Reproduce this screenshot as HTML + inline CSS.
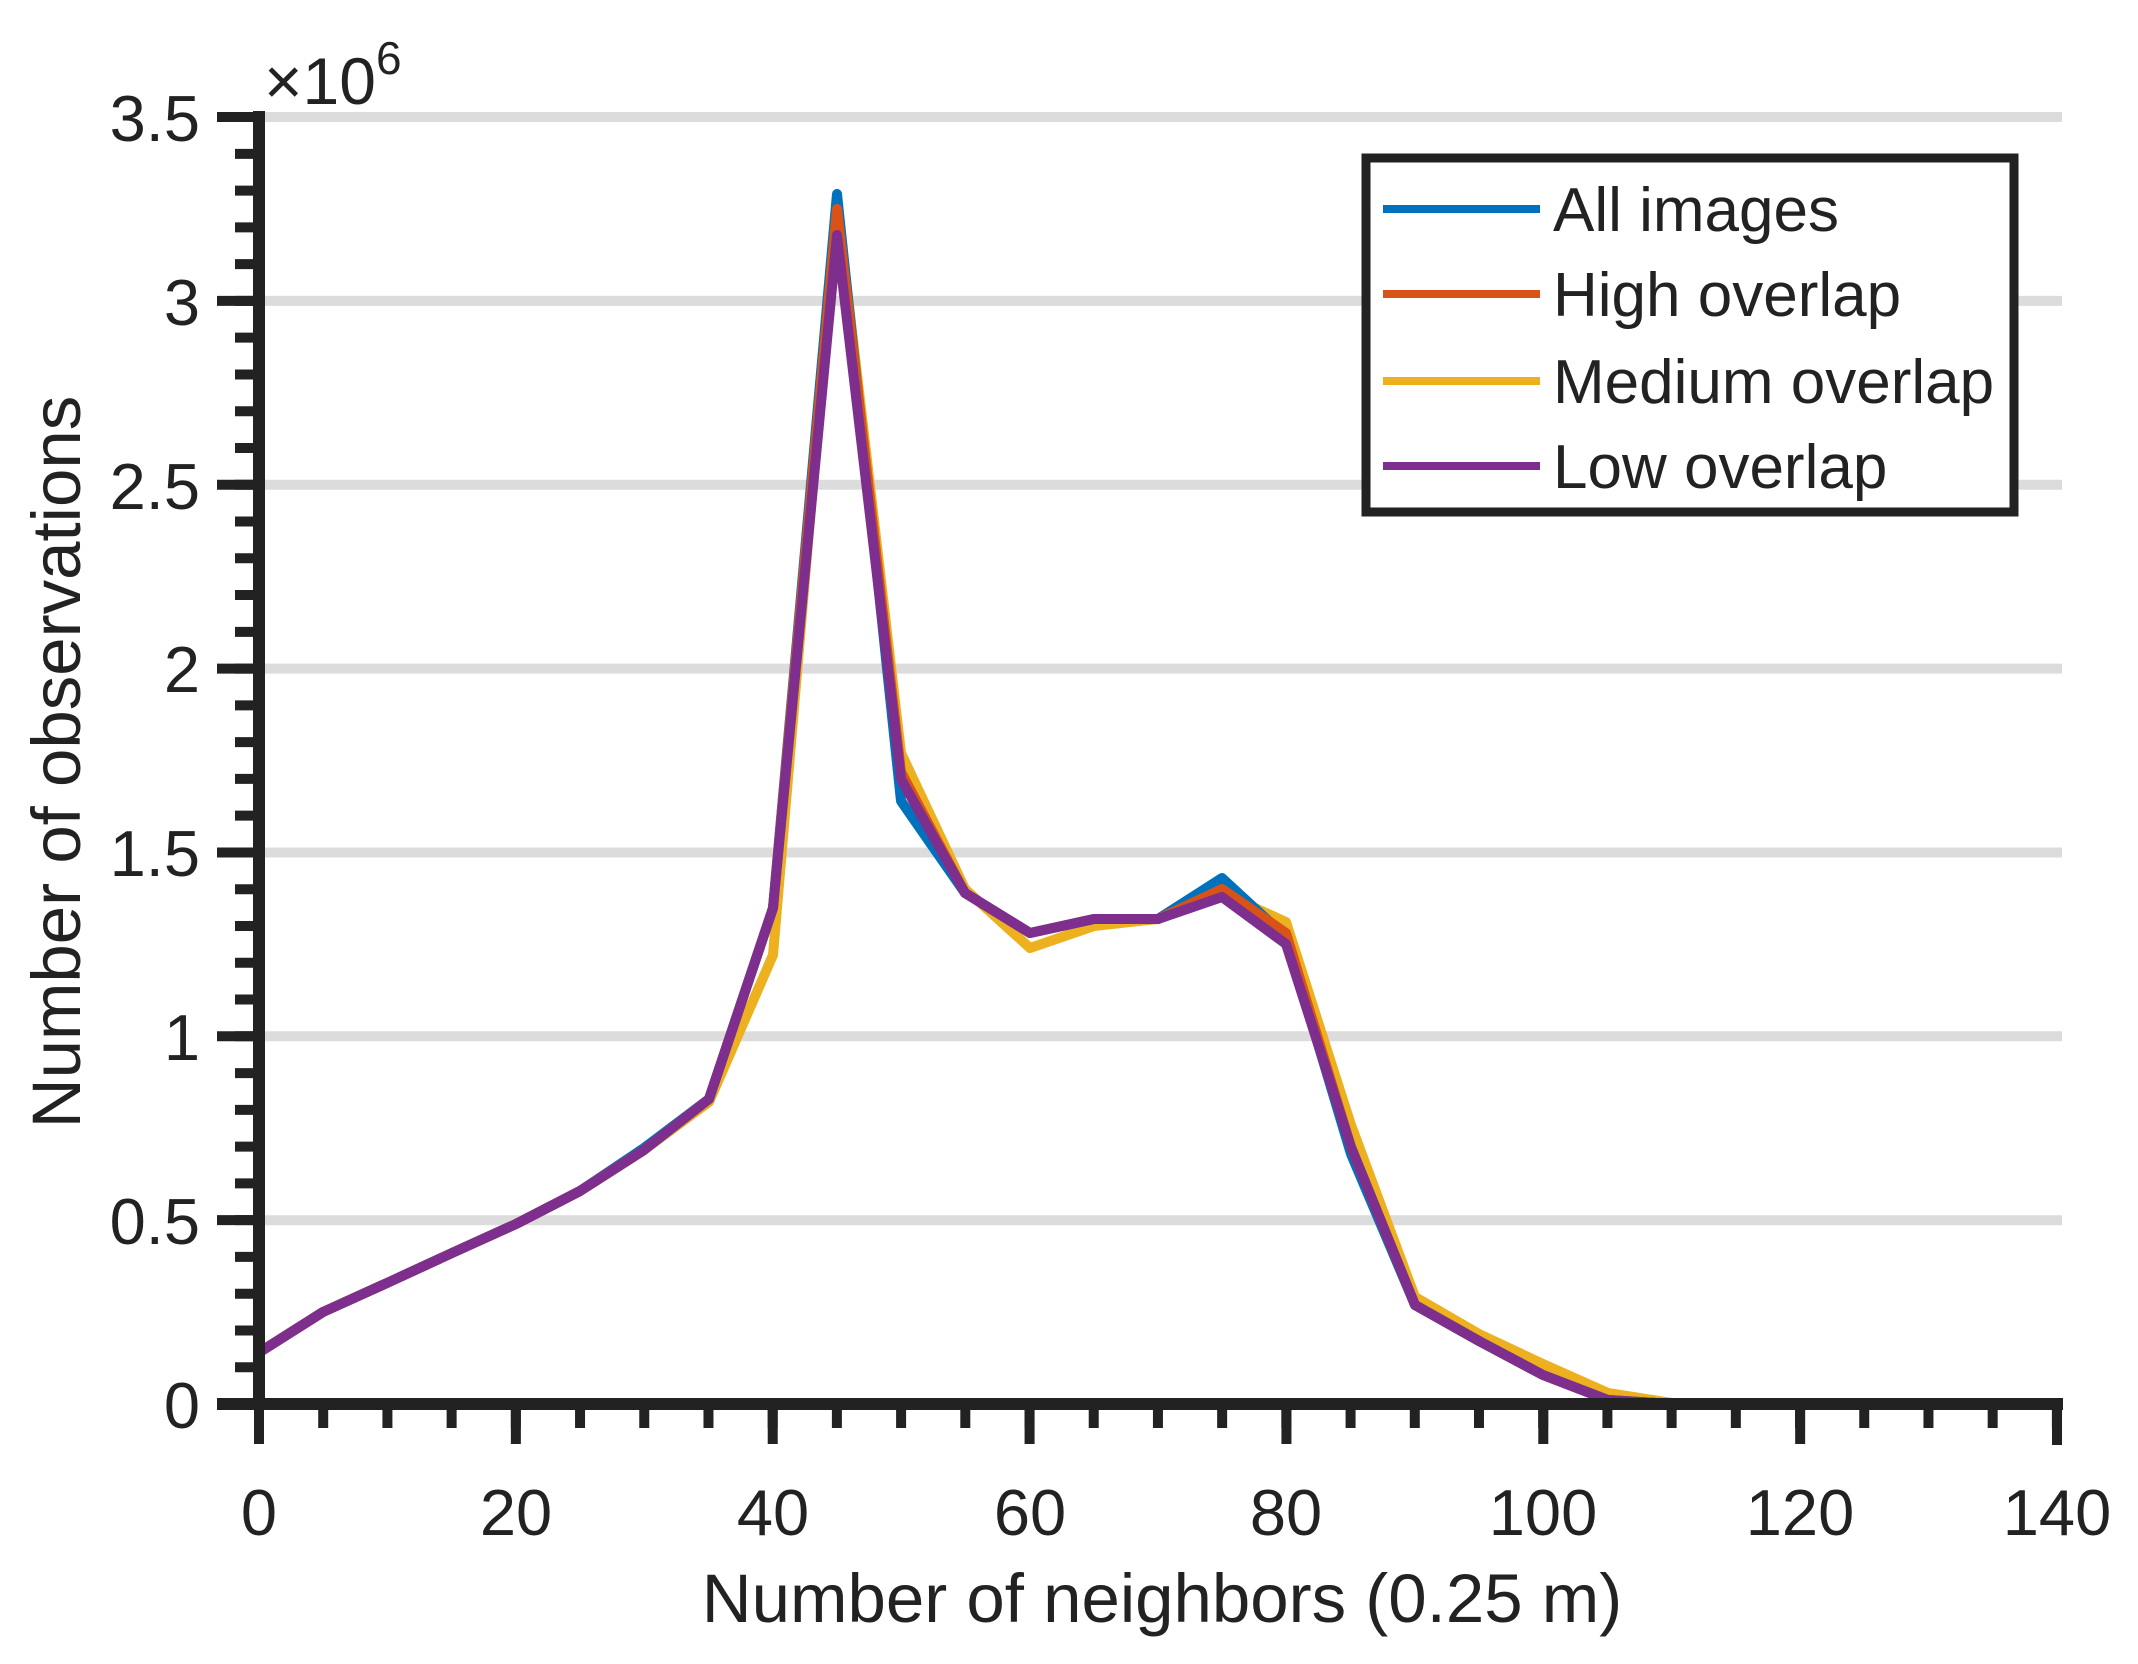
<!DOCTYPE html>
<html><head><meta charset="utf-8"><style>
html,body{margin:0;padding:0;background:#fff}
svg{display:block}
text{font-family:"Liberation Sans",Arial,sans-serif;fill:#222}
</style></head><body>
<svg width="2138" height="1664" viewBox="0 0 2138 1664" xmlns="http://www.w3.org/2000/svg">
<g stroke="#dcdcdc" stroke-width="10">
<line x1="259" y1="1220.2" x2="2062" y2="1220.2"/>
<line x1="259" y1="1036.3" x2="2062" y2="1036.3"/>
<line x1="259" y1="852.5" x2="2062" y2="852.5"/>
<line x1="259" y1="668.6" x2="2062" y2="668.6"/>
<line x1="259" y1="484.8" x2="2062" y2="484.8"/>
<line x1="259" y1="300.9" x2="2062" y2="300.9"/>
<line x1="259" y1="117" x2="2062" y2="117"/>
</g>
<g fill="none" stroke-width="10" stroke-linejoin="round" stroke-linecap="round">
<polyline stroke="#EDB120" points="259,1352.5 323,1312 387,1283 452,1253 516,1224 580,1191 644,1150 709,1102 773,955 837,202 901,753 965,889 1030,948 1094,926 1158,919 1222,893 1286,922 1351,1125 1415,1297 1479,1334 1543,1364 1608,1393 1672,1403 1736,1404 1800,1404 1864,1404 1929,1404 1993,1404"/>
<polyline stroke="#0072BD" points="259,1352.5 323,1312 387,1283 452,1253 516,1224 580,1191 644,1148 709,1099 773,908 837,194 901,801 965,893 1030,933 1094,919 1158,919 1222,878 1286,937 1351,1154 1415,1305 1479,1341 1543,1375 1608,1400 1672,1404 1736,1404 1800,1404 1864,1404 1929,1404 1993,1404"/>
<polyline stroke="#D95319" points="259,1352.5 323,1312 387,1283 452,1253 516,1224 580,1191 644,1150 709,1099 773,908 837,209 901,772 965,893 1030,933 1094,919 1158,919 1222,889 1286,933 1351,1147 1415,1305 1479,1341 1543,1375 1608,1400 1672,1404 1736,1404 1800,1404 1864,1404 1929,1404 1993,1404"/>
<polyline stroke="#7E2F8E" points="259,1352.5 323,1312 387,1283 452,1253 516,1224 580,1191 644,1150 709,1099 773,908 837,235 901,779 965,893 1030,933 1094,919 1158,919 1222,897 1286,944 1351,1147 1415,1305 1479,1341 1543,1375 1608,1400 1672,1404 1736,1404 1800,1404 1864,1404 1929,1404 1993,1404"/>
</g>
<g stroke="#222" fill="none">
<line x1="259" y1="1410" x2="259" y2="111" stroke-width="12"/>
<line x1="217" y1="1404" x2="2063" y2="1404" stroke-width="12"/>
<line x1="247" y1="1409" x2="247" y2="110" stroke-width="24" stroke-dasharray="10 26.77"/>
<line x1="238" y1="1409" x2="238" y2="110" stroke-width="42" stroke-dasharray="10 173.85"/>
<line x1="254" y1="1416" x2="2063" y2="1416" stroke-width="24" stroke-dasharray="10 54.21"/>
<line x1="254" y1="1424" x2="2063" y2="1424" stroke-width="40" stroke-dasharray="10 246.86"/>
<line x1="2057" y1="1404" x2="2057" y2="1445" stroke-width="10"/>
</g>
<g font-size="65" text-anchor="end">
<text x="200" y="1428">0</text>
<text x="200" y="1244">0.5</text>
<text x="200" y="1060">1</text>
<text x="200" y="876">1.5</text>
<text x="200" y="692">2</text>
<text x="200" y="509">2.5</text>
<text x="200" y="325">3</text>
<text x="200" y="141">3.5</text>
</g>
<g font-size="65" text-anchor="middle">
<text x="259" y="1535">0</text>
<text x="516" y="1535">20</text>
<text x="773" y="1535">40</text>
<text x="1030" y="1535">60</text>
<text x="1286" y="1535">80</text>
<text x="1543" y="1535">100</text>
<text x="1800" y="1535">120</text>
<text x="2057" y="1535">140</text>
</g>
<text x="264" y="104" font-size="66">×10<tspan font-size="46" dy="-30">6</tspan></text>
<text x="1162" y="1622" font-size="69" text-anchor="middle">Number of neighbors (0.25 m)</text>
<text transform="translate(80,762) rotate(-90)" font-size="69" text-anchor="middle">Number of observations</text>
<rect x="1366" y="158" width="648" height="354" fill="#fff" stroke="#222" stroke-width="9"/>
<g stroke-width="8">
<line x1="1383" y1="209" x2="1540" y2="209" stroke="#0072BD"/>
<line x1="1383" y1="294" x2="1540" y2="294" stroke="#D95319"/>
<line x1="1383" y1="381" x2="1540" y2="381" stroke="#EDB120"/>
<line x1="1383" y1="466" x2="1540" y2="466" stroke="#7E2F8E"/>
</g>
<g font-size="62" fill="#000">
<text x="1553" y="231">All images</text>
<text x="1553" y="316">High overlap</text>
<text x="1553" y="403">Medium overlap</text>
<text x="1553" y="488">Low overlap</text>
</g>
</svg>
</body></html>
